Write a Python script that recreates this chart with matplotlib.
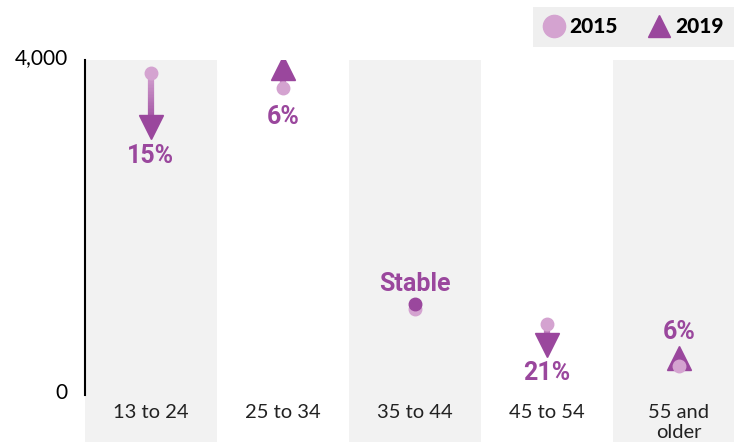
import matplotlib.pyplot as plt
import numpy as np
from matplotlib.collections import LineCollection
from matplotlib.lines import Line2D
from matplotlib.colors import to_rgb

ages = ['13 to 24', '25 to 34', '35 to 44', '45 to 54', '55 and\nolder']
v2015 = [3845, 3665, 1030, 850, 350]
v2019 = [3200, 3900, 1085, 600, 440]
labels = ['15%', '6%', 'Stable', '21%', '6%']
# where the change label sits: below (-1) or above (+1) the marks
label_side = [-1, -1, 1, -1, 1]

light = '#d4a3d0'
dark = '#9a479d'
band = '#f2f2f2'

fig = plt.figure(figsize=(7.34, 4.42), dpi=100)
ax = fig.add_axes([85 / 734, 0, 649 / 734, 382 / 442])
ax.set_xlim(-0.5, 4.417)
ax.set_ylim(-561, 4000)
for s in ax.spines.values():
    s.set_visible(False)
ax.set_xticks([])
ax.set_yticks([])

for i in range(0, len(ages), 2):
    ax.axvspan(i - 0.5, i + 0.5, color=band, zorder=0, lw=0)

# axis line
ax.plot([-0.5, -0.5], [0, 4000], color='black', lw=1.5, clip_on=False, zorder=3)
for v, t in [(0, '0'), (4000, '4,000')]:
    ax.text(-0.63, v + 20, t, ha='right', va='center', fontsize=15, family='Lato')

lab = dict(fontsize=18, fontweight='bold', family=['Roboto', 'DejaVu Sans'], color=dark)
c1, c2 = np.array(to_rgb(light)), np.array(to_rgb(dark))
for i, (a, b) in enumerate(zip(v2015, v2019)):
    ax.text(i, -110, ages[i], ha='center', va='top', fontsize=14.5, family='Lato',
            color='#222222', linespacing=1.2)
    if labels[i] == 'Stable':
        ax.plot(i, a, 'o', color=light, ms=9, zorder=4)
        ax.plot(i, b, 'o', color=dark, ms=9, zorder=5)
        ax.annotate(labels[i], (i, max(a, b)), xytext=(0, 6), textcoords='offset points',
                    ha='center', va='bottom', **lab)
        continue
    # gradient shaft from 2015 to 2019
    ys = np.linspace(a, b, 40)
    segs = [[(i, ys[k]), (i, ys[k + 1])] for k in range(len(ys) - 1)]
    cols = [c1 + (c2 - c1) * k / (len(segs) - 1) for k in range(len(segs))]
    ax.add_collection(LineCollection(segs, colors=cols, linewidths=4.5, zorder=3))
    mk = 'v' if b < a else '^'
    ax.plot(i, b, mk, color=dark, ms=17, zorder=4)
    ax.plot(i, a, 'o', color=light, ms=9, zorder=5)
    if label_side[i] < 0:
        ax.annotate(labels[i], (i, min(a, b)), xytext=(0, -12), textcoords='offset points',
                    ha='center', va='top', **lab)
    else:
        ax.annotate(labels[i], (i, max(a, b)), xytext=(0, 10), textcoords='offset points',
                    ha='center', va='bottom', **lab)

handles = [Line2D([], [], marker='o', ls='', color=light, ms=16),
           Line2D([], [], marker='^', ls='', color=dark, ms=16)]
leg = fig.legend(handles, ['2015', '2019'], loc='upper right',
                 bbox_to_anchor=(1.0, 1 - 7 / 442), borderaxespad=0,
                 ncol=2, frameon=True, fancybox=False, facecolor='#efefef',
                 edgecolor='none', framealpha=1, handlelength=1.0, handletextpad=0.25,
                 columnspacing=1.5, borderpad=0.5,
                 prop={'family': 'Lato', 'weight': 'black', 'size': 15})

plt.savefig('out.png', dpi=100)
